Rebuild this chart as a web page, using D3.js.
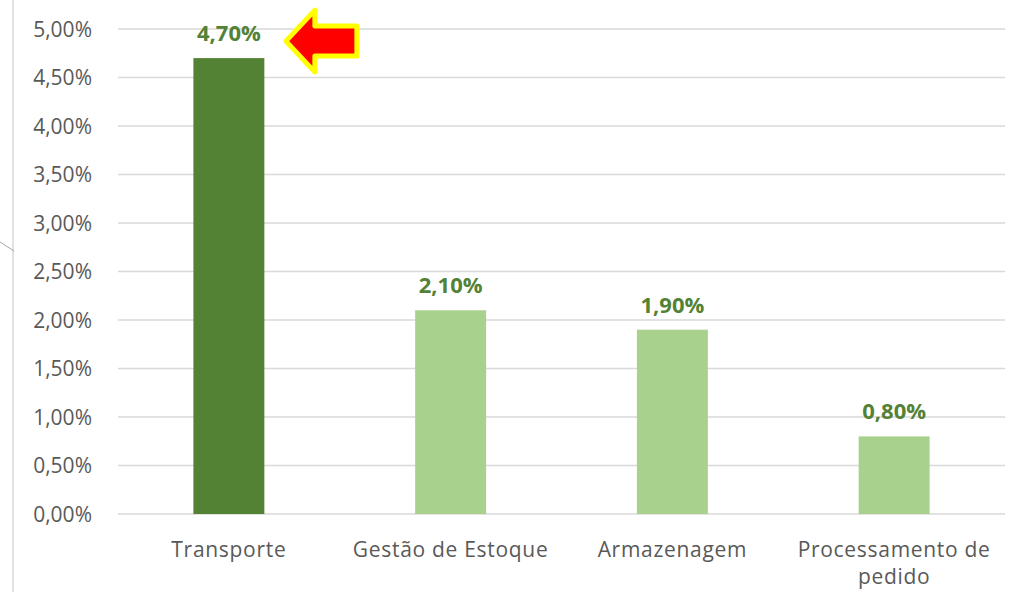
<!DOCTYPE html>
<html>
<head>
<meta charset="utf-8">
<script src="https://cdn.jsdelivr.net/npm/d3@7.9.0/dist/d3.min.js"></script>
<style>
  body { margin: 0; background: #fff; }
  svg { display: block; font-family: "Open Sans", "Noto Sans", sans-serif; }
</style>
</head>
<body>
<svg width="1010" height="592"></svg>
<script>
const categories = ['Transporte', 'Gestão de Estoque', 'Armazenagem', 'Processamento de pedido'];
const values = [0.047, 0.021, 0.019, 0.008];
const tickValues = [0, 0.005, 0.01, 0.015, 0.02, 0.025, 0.03, 0.035, 0.04, 0.045, 0.05];
const highlighted = 'Transporte';

const fmt = (v) => (v * 100).toFixed(2).replace('.', ',') + '%';

const svg = d3.select('svg');
const margin = { left: 118, right: 5, top: 29, bottom: 78 };
const width = 1010, height = 592;

const x = d3.scaleBand()
    .domain(categories)
    .range([margin.left, width - margin.right])
    .paddingInner(0.68)
    .paddingOuter(0.34);

const y = d3.scaleLinear()
    .domain([0, 0.05])
    .range([height - margin.bottom, margin.top]);

// frame line at left edge
svg.append('line')
    .attr('x1', 13).attr('x2', 13)
    .attr('y1', 0).attr('y2', height)
    .attr('stroke', '#d9d9d9').attr('stroke-width', 1.5);
svg.append('line')
    .attr('x1', 0).attr('y1', 242)
    .attr('x2', 14).attr('y2', 251)
    .attr('stroke', '#a6a6a6').attr('stroke-width', 1);

// gridlines
svg.append('g')
    .selectAll('line')
    .data(tickValues)
    .join('line')
    .attr('x1', margin.left)
    .attr('x2', width - margin.right)
    .attr('y1', (d) => y(d))
    .attr('y2', (d) => y(d))
    .attr('stroke', '#d9d9d9')
    .attr('stroke-width', 1.5);

// y tick labels
svg.append('g')
    .selectAll('text')
    .data(tickValues)
    .join('text')
    .attr('x', 92)
    .attr('y', (d) => y(d))
    .attr('dy', '0.36em')
    .attr('text-anchor', 'end')
    .attr('fill', '#595959')
    .attr('font-size', 21)
    .text(fmt);

// bars
svg.append('g')
    .selectAll('rect')
    .data(categories)
    .join('rect')
    .attr('x', (d) => x(d))
    .attr('width', x.bandwidth())
    .attr('y', (d, i) => y(values[i]))
    .attr('height', (d, i) => y(0) - y(values[i]))
    .attr('fill', (d) => d === highlighted ? '#548235' : '#a9d18e');

// value labels
svg.append('g')
    .selectAll('text')
    .data(categories)
    .join('text')
    .attr('x', (d) => x(d) + x.bandwidth() / 2)
    .attr('y', (d, i) => y(values[i]) - 17)
    .attr('text-anchor', 'middle')
    .attr('fill', '#538135')
    .attr('font-weight', 'bold')
    .attr('font-size', 22)
    .text((d, i) => fmt(values[i]));

// category labels (wrapped like the original)
const catLines = {
    'Processamento de pedido': ['Processamento de', 'pedido']
};
const catG = svg.append('g');
categories.forEach((c) => {
    const lines = catLines[c] || [c];
    const t = catG.append('text')
        .attr('x', x(c) + x.bandwidth() / 2)
        .attr('y', 557)
        .attr('text-anchor', 'middle')
        .attr('fill', '#595959')
        .attr('font-size', 21)
        .attr('letter-spacing', 0.7);
    lines.forEach((l, i) => {
        t.append('tspan')
            .attr('x', x(c) + x.bandwidth() / 2)
            .attr('dy', i === 0 ? 0 : 27)
            .text(l);
    });
});

// red arrow pointing at the highlighted value
const ax = x(highlighted) + x.bandwidth() / 2;
const ay = y(values[0]) - 17;
const arrow = [
    [ax + 57, ay], [ax + 86, ay - 31], [ax + 86, ay - 15],
    [ax + 128, ay - 15], [ax + 128, ay + 15], [ax + 86, ay + 15], [ax + 86, ay + 31]
];
svg.append('path')
    .attr('d', d3.line()(arrow) + 'Z')
    .attr('fill', '#ff0000')
    .attr('stroke', '#ffff00')
    .attr('stroke-width', 5)
    .attr('stroke-linejoin', 'round');
</script>
</body>
</html>
